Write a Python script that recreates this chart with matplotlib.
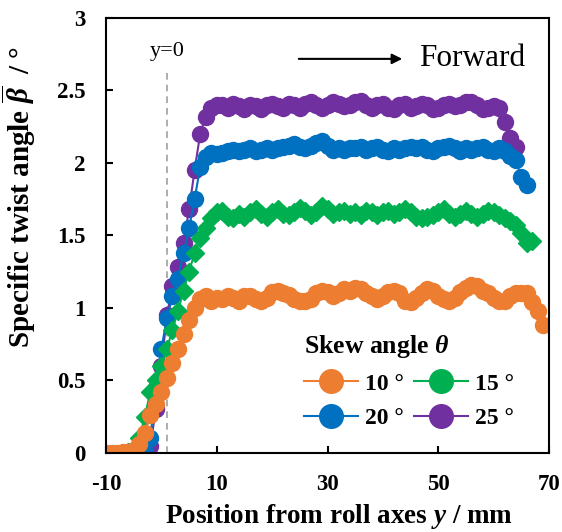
import numpy as np
import matplotlib
matplotlib.use('Agg')
import matplotlib.pyplot as plt
from matplotlib.lines import Line2D

plt.rcParams['font.family'] = ['Liberation Serif', 'DejaVu Serif']
plt.rcParams['mathtext.fontset'] = 'custom'
plt.rcParams['mathtext.rm'] = 'Liberation Serif:bold'
plt.rcParams['mathtext.it'] = 'Liberation Serif:italic:bold'
plt.rcParams['mathtext.bf'] = 'Liberation Serif:bold'
plt.rcParams['axes.unicode_minus'] = False

# data (position y in mm, twist angle in degrees)
y10 = np.arange(-10, 70)
b10 = [0.0, 0.0, 0.0, 0.01, 0.01, 0.02, 0.06, 0.14, 0.26, 0.34,
       0.42, 0.52, 0.62, 0.72, 0.82, 0.92, 1.0, 1.06, 1.08, 1.05,
       1.07, 1.06, 1.08, 1.07, 1.05, 1.08, 1.08, 1.06, 1.05, 1.07,
       1.11, 1.12, 1.10, 1.09, 1.06, 1.05, 1.05, 1.06, 1.10, 1.12,
       1.11, 1.08, 1.10, 1.13, 1.12, 1.14, 1.13, 1.10, 1.08, 1.06,
       1.08, 1.11, 1.12, 1.10, 1.05, 1.04, 1.07, 1.10, 1.13, 1.12,
       1.08, 1.06, 1.05, 1.07, 1.11, 1.14, 1.16, 1.15, 1.12, 1.10,
       1.07, 1.05, 1.05, 1.08, 1.10, 1.10, 1.10, 1.04, 0.98, 0.88]

y15 = np.arange(-7, 68)
b15 = [0.0, 0.01, 0.02, 0.10, 0.25, 0.42, 0.50, 0.60, 0.72, 0.85,
       0.98, 1.12, 1.25, 1.38, 1.48, 1.55, 1.62, 1.66, 1.67, 1.63,
       1.62, 1.65, 1.63, 1.66, 1.68, 1.65, 1.63, 1.66, 1.68, 1.65,
       1.64, 1.66, 1.69, 1.67, 1.64, 1.66, 1.70, 1.68, 1.65, 1.66,
       1.67, 1.65, 1.66, 1.64, 1.67, 1.66, 1.64, 1.66, 1.67, 1.65,
       1.66, 1.68, 1.66, 1.63, 1.62, 1.63, 1.64, 1.66, 1.68, 1.65,
       1.63, 1.65, 1.67, 1.65, 1.63, 1.65, 1.67, 1.66, 1.64, 1.62,
       1.60, 1.57, 1.52, 1.45, 1.46]

y20 = np.arange(-7, 67)
b20 = [0.0, 0.0, 0.01, 0.0, 0.01, 0.10, 0.45, 0.72, 0.93, 1.08,
       1.20, 1.38, 1.55, 1.75, 1.97, 2.04, 2.07, 2.06, 2.07, 2.08,
       2.09, 2.08, 2.09, 2.10, 2.08, 2.09, 2.10, 2.09, 2.10, 2.11,
       2.12, 2.13, 2.11, 2.10, 2.12, 2.14, 2.15, 2.12, 2.09, 2.10,
       2.09, 2.10, 2.10, 2.11, 2.09, 2.10, 2.11, 2.09, 2.08, 2.10,
       2.09, 2.10, 2.11, 2.10, 2.11, 2.09, 2.08, 2.10, 2.11, 2.12,
       2.10, 2.08, 2.10, 2.09, 2.10, 2.11, 2.09, 2.08, 2.10, 2.08,
       2.05, 2.02, 1.90, 1.85]

y25 = np.arange(-7, 65)
b25 = [0.0, 0.01, 0.01, 0.01, 0.0, 0.05, 0.30, 0.60, 0.95, 1.15,
       1.28, 1.45, 1.68, 1.95, 2.20, 2.32, 2.38, 2.40, 2.40, 2.38,
       2.41, 2.39, 2.37, 2.40, 2.39, 2.37, 2.40, 2.41, 2.39, 2.38,
       2.41, 2.40, 2.38, 2.41, 2.42, 2.40, 2.38, 2.40, 2.42, 2.41,
       2.39, 2.40, 2.42, 2.43, 2.40, 2.38, 2.40, 2.41, 2.38, 2.37,
       2.40, 2.41, 2.38, 2.39, 2.41, 2.40, 2.37, 2.38, 2.40, 2.41,
       2.39, 2.40, 2.42, 2.42, 2.40, 2.37, 2.38, 2.39, 2.38, 2.28,
       2.17, 2.11]

c10, c15, c20, c25 = '#ED7D31', '#00B050', '#0070C0', '#7030A0'
zero_line = 1.0  # dashed "y=0" marker as drawn

fig = plt.figure(figsize=(5.62, 5.32), dpi=100)
ax = fig.add_axes([0.1886, 0.1485, 0.7883, 0.8177])

ax.plot(y25, b25, '-o', color=c25, ms=11.5, lw=1.5)
ax.plot(y20, b20, '-o', color=c20, ms=11.5, lw=1.5)
ax.plot(y15, b15, '-D', color=c15, ms=9.5, lw=1.5)
ax.plot(y10, b10, '-o', color=c10, ms=11.5, lw=1.5)

ax.vlines(zero_line, 0, 2.65, colors='#a0a0a0', linestyles=(0, (4, 3)), lw=1.2, zorder=1)
ax.text(zero_line, 2.7, 'y=0', ha='center', va='bottom', fontsize=16)

ax.annotate('', xy=(0.675, 0.906), xytext=(0.429, 0.906), xycoords='axes fraction',
            arrowprops=dict(arrowstyle='-|>', color='black', lw=1.5, mutation_scale=15))
ax.text(0.707, 0.906, 'Forward', transform=ax.transAxes, ha='left', va='center', fontsize=22.5)

ax.set_xlim(-10, 70)
ax.set_ylim(0, 3)
ax.set_xticks([-10, 10, 30, 50, 70])
ax.set_yticks([0, 0.5, 1, 1.5, 2, 2.5, 3])
ax.set_yticklabels(['0', '0.5', '1', '1.5', '2', '2.5', '3'])
ax.tick_params(direction='in', length=5, width=1.5, labelsize=16.5, pad=15)
ax.tick_params(axis='y', pad=15)
for lab in ax.get_xticklabels() + ax.get_yticklabels():
    lab.set_fontweight('bold')
for sp in ax.spines.values():
    sp.set_linewidth(1.5)

ax.set_xlabel('Position from roll axes $y$ / mm', fontsize=19.5, fontweight='bold')
ax.xaxis.set_label_coords(0.526, -0.113)
ax.set_ylabel(r'Specific twist angle $\overline{\beta}$  / °', fontsize=21, fontweight='bold')
ax.yaxis.set_label_coords(-0.153, 0.589)

# legend fills columns first, so order gives rows 10/15 and 20/25
order = [(c10, '10 °'), (c20, '20 °'), (c15, '15 °'), (c25, '25 °')]
handles = [Line2D([], [], color=c, marker='o', ms=17, lw=1.5) for c, _ in order]
leg = ax.legend(handles, [l for _, l in order], ncol=2, title=r'Skew angle $\theta$',
                frameon=False, loc='center', bbox_to_anchor=(0.684, 0.165), fontsize=17,
                title_fontproperties={'size': 18.5, 'weight': 'bold'}, alignment='left',
                handlelength=2.3, handletextpad=0.3, columnspacing=0.4, labelspacing=0.55)
for t in leg.get_texts():
    t.set_fontweight('bold')

fig.savefig('out.png', dpi=100)
